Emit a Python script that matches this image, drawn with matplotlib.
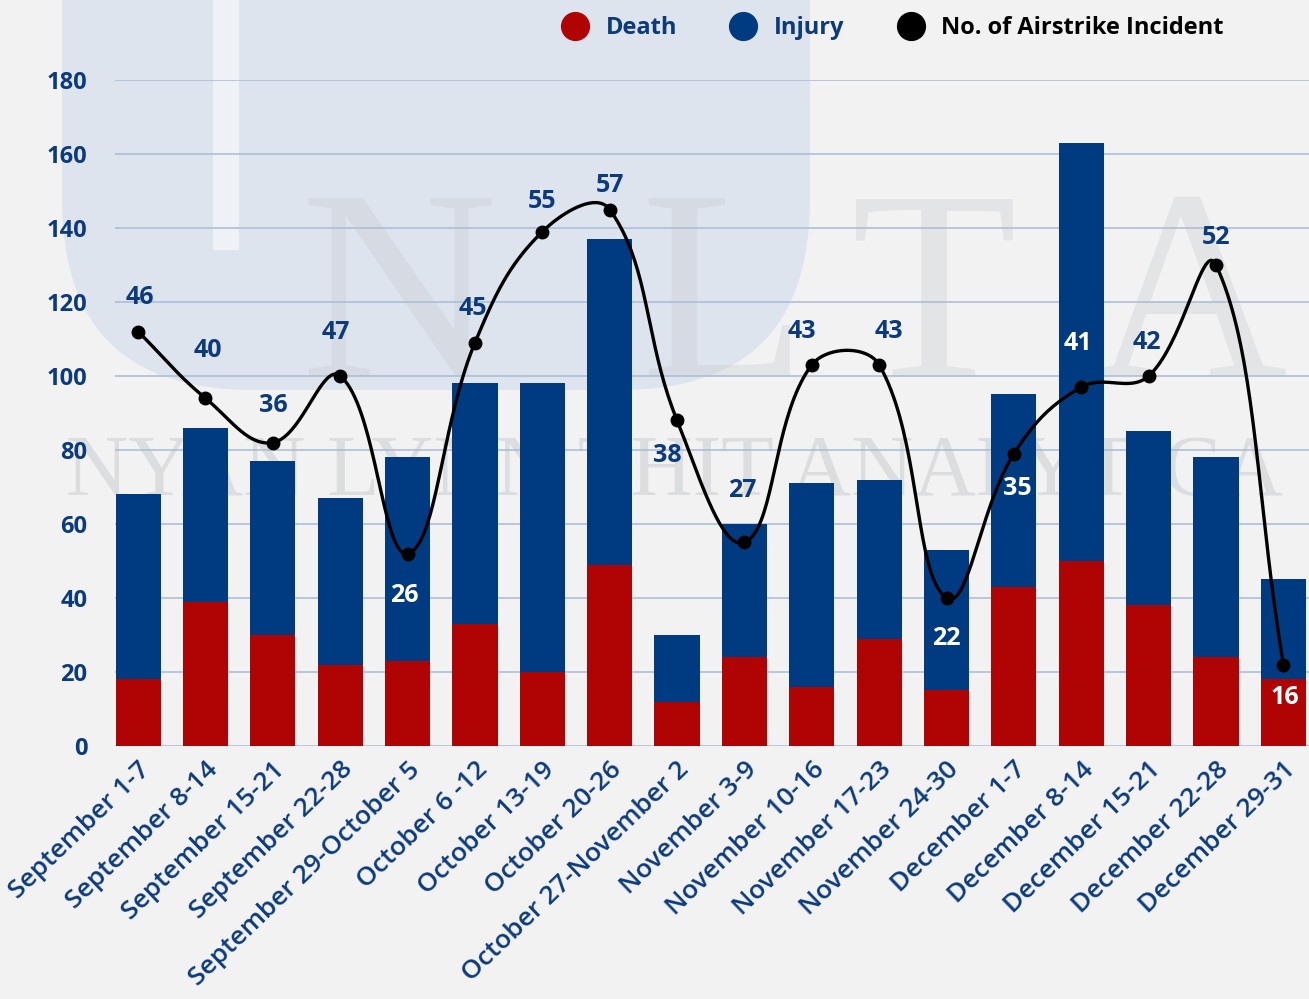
import numpy as np
import matplotlib
matplotlib.use("Agg")
import matplotlib.pyplot as plt
from matplotlib.lines import Line2D
from matplotlib.patches import FancyBboxPatch

plt.rcParams['font.family'] = ['Open Sans', 'DejaVu Sans']

# data
weeks = ["September 1-7", "September 8-14", "September 15-21", "September 22-28",
         "September 29-October 5", "October 6 -12", "October 13-19", "October 20-26",
         "October 27-November 2", "November 3-9", "November 10-16", "November 17-23",
         "November 24-30", "December 1-7", "December 8-14", "December 15-21",
         "December 22-28", "December 29-31"]
death = [18, 39, 30, 22, 23, 33, 20, 49, 12, 24, 16, 29, 15, 43, 50, 38, 24, 18]
injury = [50, 47, 47, 45, 55, 65, 78, 88, 18, 36, 55, 43, 38, 52, 113, 47, 54, 27]
# positions of the line markers (secondary scale) and the printed labels
incidents = [46, 40, 36, 42, 26, 45, 55, 57, 38, 27, 43, 43, 22, 35, 41, 42, 52, 16]
incident_labels = ["46", "40", "36", "47", "26", "45", "55", "57", "38", "27",
                   "43", "43", "22", "35", "41", "42", "52", "16"]
# label offsets from the marker, in pixels (up is positive)
label_dy = [34, 48, 37, 43, -42, 34, 30, 24, -35, 52, 33, 33, -41, -35, 44, 33, 28, -33]
label_dx = [2, 2, 0, -4, -3, -2, 0, 0, -10, -2, -10, 10, 0, 3, -3, -2, 0, 1]

RED = "#b00404"
BLUE = "#003a80"
NAVY = "#0b3a7e"

fig = plt.figure(figsize=(13.09, 9.99), dpi=100)
fig.patch.set_facecolor("#f2f2f2")

# background watermark
bg = fig.add_axes([0, 0, 1, 1], zorder=-5)
bg.set_xlim(0, 1309)
bg.set_ylim(999, 0)
bg.axis("off")
bg.add_patch(FancyBboxPatch((62, -200), 748, 590, boxstyle="round,pad=0,rounding_size=190",
                            fc="#dde4ee", ec="none"))
bg.add_patch(plt.Rectangle((213, 0), 26, 250, fc="#eef1f5", ec="none"))
for ch, x in zip("NLTA", [300, 640, 850, 1090]):
    bg.text(x, 376, ch, fontsize=196, family="Liberation Serif", color="#c9ccd1",
            alpha=0.35, ha="left", va="baseline")
bg.text(675, 474, "NYAN LYNN THIT ANALYTICA", fontsize=62, family="Liberation Serif",
        color="#c3c5c9", alpha=0.45, ha="center", va="center")

ax = fig.add_axes([0.088, 0.2533, 0.912, 0.6666])
ax.patch.set_alpha(0)
x = np.arange(len(weeks))
ax.bar(x, death, width=0.67, color=RED, zorder=2)
ax.bar(x, injury, bottom=death, width=0.67, color=BLUE, zorder=2)
ax.set_xlim(-0.34, 17.38)
ax.set_ylim(0, 180)
ax.set_yticks(range(0, 181, 20))
ax.grid(axis="y", color="#a8bbd4", linewidth=1.1, zorder=0)
ax.set_axisbelow(True)
for s in ax.spines.values():
    s.set_visible(False)
ax.tick_params(axis="both", length=0)
ax.tick_params(axis="y", pad=20, labelsize=17, labelcolor=NAVY)
for t in ax.get_yticklabels():
    t.set_fontweight("bold")
ax.set_xticks(x)
ax.set_xticklabels(weeks, rotation=44, ha="right", rotation_mode="anchor",
                   fontsize=19, color=NAVY, fontweight=600)
ax.tick_params(axis="x", pad=8)

# secondary scale for incidents
ax2 = ax.twinx()
ax2.set_ylim((0 + 26) / 3, (180 + 26) / 3)
ax2.axis("off")

# smooth line (chart.js style spline, tension 0.4, in display space)
fig.canvas.draw()
pts = ax2.transData.transform(np.column_stack([x, incidents]))
tension = 0.4
n = len(pts)
cps = []
for i in range(n):
    p0 = pts[max(i - 1, 0)]
    p1 = pts[i]
    p2 = pts[min(i + 1, n - 1)]
    d01 = np.hypot(*(p1 - p0))
    d12 = np.hypot(*(p2 - p1))
    tot = d01 + d12 if d01 + d12 > 0 else 1
    fa = tension * d01 / tot
    fb = tension * d12 / tot
    cps.append((p1 - fa * (p2 - p0), p1 + fb * (p2 - p0)))
curve = []
tt = np.linspace(0, 1, 40)[:, None]
for i in range(n - 1):
    a, b = pts[i], pts[i + 1]
    c1, c2 = cps[i][1], cps[i + 1][0]
    seg = (1 - tt) ** 3 * a + 3 * (1 - tt) ** 2 * tt * c1 + 3 * (1 - tt) * tt ** 2 * c2 + tt ** 3 * b
    curve.append(seg)
curve = ax2.transData.inverted().transform(np.vstack(curve))
ax2.plot(curve[:, 0], curve[:, 1], color="black", lw=2.4, zorder=4, clip_on=False)
ax2.plot(x, incidents, "o", color="black", markersize=9, zorder=5, clip_on=False)

totals = np.array(death) + np.array(injury)
for i, (v, lab) in enumerate(zip(incidents, incident_labels)):
    dx, dy = label_dx[i] * 0.72, label_dy[i] * 0.72
    ly = ax.transData.inverted().transform(
        ax2.transData.transform((i, v)) + np.array([0, label_dy[i]]))[1]
    col = "white" if 0 < ly < totals[i] else NAVY
    ax2.annotate(lab, (i, v), xytext=(dx, dy), textcoords="offset points",
                 ha="center", va="center", fontsize=18, fontweight="bold", color=col, zorder=6)

handles = [Line2D([], [], marker="o", ls="", color=RED, markersize=20),
           Line2D([], [], marker="o", ls="", color=BLUE, markersize=20),
           Line2D([], [], marker="o", ls="", color="black", markersize=20)]
leg = fig.legend(handles, ["Death", "Injury", "No. of Airstrike Incident"], loc="center",
                 bbox_to_anchor=(0.678, 0.972), ncol=3, frameon=False, fontsize=17,
                 handletextpad=0.3, columnspacing=1.8)
for t, c in zip(leg.get_texts(), [NAVY, NAVY, "black"]):
    t.set_color(c)
    t.set_fontweight("bold")

fig.savefig("out.png", dpi=100, facecolor=fig.get_facecolor())
